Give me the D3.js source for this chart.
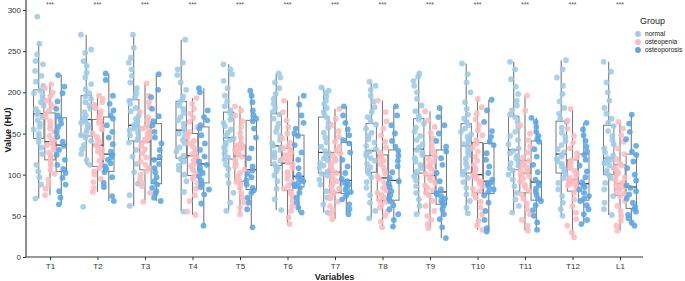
<!DOCTYPE html>
<html>
<head>
<meta charset="utf-8">
<script src="https://cdn.jsdelivr.net/npm/d3@7"></script>
<style>
  body { margin: 0; background: #fff; }
  text { font-family: "Liberation Sans", Arial, sans-serif; }
</style>
</head>
<body>
<div id="chart"></div>
<script>
// Categories and groups
const categories = ["T1", "T2", "T3", "T4", "T5", "T6", "T7", "T8", "T9", "T10", "T11", "T12", "L1"];
const groups = ["normal", "osteopenia", "osteoporosis"];
const yTicks = [0, 50, 100, 150, 200, 250, 300];
const sigLabels = ["***", "***", "***", "***", "***", "***", "***", "***", "***", "***", "***", "***", "***"];

// Box stats per category: [lower whisker, q1, median, q3, upper whisker]
const normalBox = [
  [71, 144, 174, 203, 260], [112, 147, 167, 196, 270], [62, 141, 160, 191, 270], [55, 120, 154, 189, 264],
  [56, 119, 145, 176, 234], [57, 111, 135, 174, 223], [54, 102, 127, 170, 206], [47, 103, 129, 162, 213],
  [52, 102, 131, 168, 223], [53, 102, 135, 162, 235], [54, 106, 130, 171, 237], [50, 102, 125, 165, 239],
  [51, 100, 120, 160, 237]
];
const osteopeniaBox = [
  [75, 118, 140, 175, 210], [79, 110, 136, 167, 196], [67, 106, 140, 158, 211], [51, 99, 123, 150, 193],
  [52, 92, 123, 136, 183], [40, 81, 114, 132, 190], [46, 78, 103, 127, 180], [36, 69, 96, 124, 190],
  [35, 77, 99, 123, 177], [33, 78, 100, 139, 192], [32, 78, 102, 117, 196], [24, 80, 94, 118, 180],
  [32, 75, 89, 112, 164]
];
const osteoporosisBox = [
  [64, 104, 136, 169, 221], [68, 104, 125, 170, 223], [68, 89, 119, 162, 222], [38, 90, 113, 158, 205],
  [36, 82, 106, 166, 202], [54, 85, 98, 148, 196], [52, 77, 93, 139, 183], [37, 69, 93, 130, 183],
  [23, 64, 79, 130, 181], [31, 77, 92, 138, 191], [33, 69, 91, 141, 169], [40, 69, 89, 125, 163],
  [38, 59, 85, 125, 173]
];

const normalPts = [
  [71, 88, 97, 104, 112, 125, 133, 140, 146, 150, 155, 158, 162, 166, 170, 173, 176, 180, 184, 188, 192, 196, 199, 202, 208, 213, 220, 226, 234, 238, 246, 259, 292],
  [61, 112, 118, 125, 131, 136, 141, 145, 148, 151, 155, 158, 161, 163, 165, 166, 169, 172, 176, 180, 184, 188, 192, 195, 199, 204, 210, 218, 224, 232, 238, 248, 252, 270],
  [62, 75, 89, 103, 113, 122, 130, 139, 142, 145, 148, 151, 154, 156, 158, 160, 162, 165, 168, 172, 177, 181, 186, 190, 194, 199, 205, 212, 220, 228, 236, 242, 254, 270],
  [55, 79, 92, 100, 106, 111, 116, 119, 123, 128, 133, 138, 142, 146, 150, 153, 157, 162, 166, 170, 175, 180, 184, 188, 191, 195, 203, 212, 221, 228, 236, 264],
  [56, 66, 78, 90, 99, 107, 112, 118, 121, 125, 129, 133, 136, 139, 142, 144, 147, 151, 155, 159, 163, 167, 171, 175, 178, 183, 189, 196, 205, 214, 222, 228, 234],
  [57, 70, 83, 92, 99, 104, 108, 110, 113, 117, 121, 124, 127, 130, 133, 135, 138, 142, 147, 152, 157, 162, 168, 173, 176, 181, 186, 192, 198, 205, 212, 218, 223],
  [54, 64, 72, 80, 88, 94, 99, 101, 104, 108, 111, 114, 117, 120, 123, 126, 129, 134, 139, 145, 151, 157, 163, 169, 172, 176, 181, 186, 190, 195, 199, 202, 206],
  [47, 56, 66, 75, 84, 91, 97, 102, 105, 109, 113, 117, 120, 123, 126, 128, 131, 135, 139, 143, 147, 151, 156, 161, 165, 170, 176, 182, 189, 196, 203, 208, 213],
  [52, 62, 70, 78, 86, 93, 98, 101, 104, 108, 112, 116, 120, 124, 127, 130, 133, 137, 142, 147, 152, 157, 162, 167, 171, 177, 184, 192, 200, 208, 214, 219, 223],
  [53, 60, 68, 76, 84, 91, 96, 100, 104, 109, 114, 119, 124, 128, 131, 134, 137, 140, 143, 146, 149, 152, 156, 160, 164, 168, 173, 180, 188, 200, 212, 222, 235],
  [54, 62, 70, 78, 86, 94, 100, 105, 108, 111, 114, 117, 120, 123, 126, 129, 132, 137, 142, 147, 152, 158, 164, 170, 173, 178, 184, 190, 198, 207, 216, 228, 237],
  [50, 58, 66, 74, 82, 90, 96, 101, 104, 107, 110, 113, 116, 119, 122, 124, 127, 131, 136, 141, 146, 151, 157, 164, 168, 174, 181, 189, 198, 208, 218, 228, 239],
  [51, 58, 66, 74, 82, 90, 96, 99, 102, 105, 108, 111, 114, 116, 118, 120, 123, 127, 132, 137, 142, 147, 153, 159, 163, 168, 174, 181, 190, 200, 212, 225, 237]
];
const osteopeniaPts = [
  [75, 83, 88, 94, 101, 106, 112, 116, 120, 123, 127, 130, 133, 136, 138, 140, 143, 147, 152, 156, 160, 165, 170, 174, 178, 182, 186, 190, 195, 200, 205, 210],
  [79, 84, 91, 95, 100, 104, 108, 112, 117, 121, 125, 128, 131, 134, 136, 139, 142, 146, 150, 155, 159, 163, 166, 169, 173, 177, 181, 185, 188, 192, 196],
  [67, 78, 86, 90, 95, 100, 104, 108, 112, 116, 121, 126, 131, 135, 139, 141, 143, 146, 149, 151, 153, 156, 158, 162, 166, 170, 176, 182, 188, 196, 211],
  [51, 55, 68, 75, 83, 90, 95, 98, 101, 105, 108, 111, 114, 117, 120, 122, 125, 128, 131, 134, 138, 141, 145, 149, 152, 158, 164, 169, 174, 180, 186, 193],
  [52, 60, 66, 72, 78, 84, 88, 91, 94, 98, 102, 106, 110, 114, 118, 122, 124, 126, 128, 130, 132, 134, 135, 136, 139, 145, 151, 158, 165, 172, 178, 183],
  [40, 48, 56, 62, 68, 73, 77, 80, 83, 87, 91, 95, 99, 103, 108, 113, 115, 117, 119, 121, 124, 127, 130, 132, 135, 139, 144, 150, 158, 166, 176, 190],
  [46, 52, 57, 62, 67, 71, 75, 78, 80, 83, 86, 89, 92, 95, 98, 102, 105, 108, 111, 114, 117, 120, 123, 126, 129, 134, 140, 146, 153, 160, 168, 180],
  [36, 43, 50, 55, 60, 64, 67, 69, 72, 75, 78, 81, 84, 87, 91, 95, 98, 101, 105, 109, 113, 117, 120, 123, 127, 133, 140, 148, 156, 165, 176, 190],
  [35, 40, 45, 50, 56, 62, 68, 75, 78, 81, 84, 87, 90, 93, 96, 99, 101, 104, 107, 110, 113, 116, 119, 122, 126, 131, 137, 144, 151, 158, 166, 177],
  [33, 38, 44, 52, 60, 67, 72, 76, 80, 83, 86, 89, 92, 95, 97, 99, 102, 107, 112, 117, 122, 128, 133, 138, 142, 148, 154, 160, 167, 174, 182, 192],
  [32, 38, 45, 52, 58, 65, 71, 76, 80, 84, 88, 92, 95, 98, 100, 101, 103, 105, 107, 109, 111, 113, 115, 117, 121, 127, 134, 142, 150, 160, 178, 196],
  [24, 30, 38, 46, 54, 62, 70, 78, 82, 85, 87, 89, 90, 92, 93, 94, 96, 99, 102, 105, 108, 111, 114, 117, 121, 126, 132, 139, 147, 156, 166, 180],
  [32, 38, 44, 50, 56, 62, 68, 74, 77, 79, 81, 83, 85, 86, 87, 88, 90, 93, 96, 99, 102, 105, 108, 111, 114, 119, 125, 132, 140, 148, 156, 164]
];
const osteoporosisPts = [
  [64, 72, 80, 88, 96, 102, 107, 112, 118, 124, 130, 135, 140, 146, 152, 158, 162, 167, 172, 180, 189, 199, 207, 221],
  [68, 74, 85, 90, 97, 103, 107, 110, 114, 118, 121, 124, 128, 137, 145, 152, 160, 168, 172, 178, 186, 196, 215, 223],
  [68, 72, 77, 80, 84, 88, 92, 97, 103, 108, 113, 118, 122, 130, 138, 145, 152, 160, 165, 171, 180, 194, 203, 222],
  [38, 65, 76, 82, 85, 89, 93, 98, 102, 105, 109, 112, 116, 122, 130, 138, 148, 156, 160, 166, 170, 178, 200, 205],
  [36, 58, 66, 72, 78, 81, 84, 88, 93, 97, 101, 105, 110, 120, 132, 145, 156, 165, 168, 172, 178, 188, 196, 202],
  [54, 60, 66, 72, 78, 84, 86, 88, 90, 92, 95, 97, 100, 108, 118, 127, 136, 147, 150, 156, 163, 172, 185, 196],
  [52, 58, 64, 70, 74, 77, 79, 82, 85, 88, 90, 92, 95, 102, 110, 118, 127, 138, 142, 148, 155, 163, 172, 183],
  [37, 45, 52, 58, 63, 68, 71, 75, 80, 85, 89, 92, 96, 103, 110, 117, 123, 129, 134, 141, 150, 160, 172, 183],
  [23, 36, 46, 52, 58, 63, 66, 68, 71, 74, 76, 78, 82, 92, 102, 112, 120, 128, 134, 141, 150, 160, 170, 181],
  [31, 35, 45, 56, 66, 75, 79, 82, 85, 88, 90, 91, 94, 102, 110, 118, 126, 136, 140, 146, 153, 164, 178, 191],
  [33, 42, 50, 57, 63, 68, 71, 75, 79, 83, 87, 90, 94, 103, 112, 122, 131, 140, 143, 147, 152, 158, 164, 169],
  [40, 45, 52, 58, 63, 68, 71, 74, 78, 82, 85, 88, 91, 97, 104, 111, 118, 124, 128, 134, 141, 148, 155, 163],
  [38, 42, 47, 51, 55, 58, 61, 66, 71, 76, 80, 84, 87, 93, 100, 108, 116, 124, 128, 135, 143, 152, 162, 173]
];

const boxes = { normal: normalBox, osteopenia: osteopeniaBox, osteoporosis: osteoporosisBox };
const points = { normal: normalPts, osteopenia: osteopeniaPts, osteoporosis: osteoporosisPts };

// Dimensions
const width = 685, height = 281;
const axisLeft = 26, axisRight = 643, axisBottom = 257;

const svg = d3.select("#chart")
  .append("svg")
  .attr("width", width)
  .attr("height", height);

// Scales
const x = d3.scalePoint()
  .domain(categories)
  .range([50, 620]);

const y = d3.scaleLinear()
  .domain([0, 300])
  .range([axisBottom, 10]);

const offset = d3.scalePoint()
  .domain(groups)
  .range([-11.3, 11.3]);

const color = d3.scaleOrdinal()
  .domain(groups)
  .range(["#9ccbe8", "#ffbabd", "#58a6e6"]);

const boxW = 10.4;

// Boxes and whiskers
groups.forEach(g => {
  const gBox = svg.append("g").attr("class", "box-" + g);
  boxes[g].forEach((s, i) => {
    const cx = x(categories[i]) + offset(g);
    gBox.append("line")
      .attr("x1", cx).attr("x2", cx)
      .attr("y1", y(s[0])).attr("y2", y(s[1]))
      .attr("stroke", "#7a7a7a").attr("stroke-width", 1.1);
    gBox.append("line")
      .attr("x1", cx).attr("x2", cx)
      .attr("y1", y(s[3])).attr("y2", y(s[4]))
      .attr("stroke", "#7a7a7a").attr("stroke-width", 1.1);
    gBox.append("rect")
      .attr("x", cx - boxW / 2)
      .attr("y", y(s[3]))
      .attr("width", boxW)
      .attr("height", y(s[1]) - y(s[3]))
      .attr("fill", "none")
      .attr("stroke", "#7a7a7a")
      .attr("stroke-width", 1);
    gBox.append("line")
      .attr("x1", cx - boxW / 2).attr("x2", cx + boxW / 2)
      .attr("y1", y(s[2])).attr("y2", y(s[2]))
      .attr("stroke", "#444").attr("stroke-width", 1.3);
  });
});

// Jittered points (jitter is only a layout offset, a fixed hash of the index)
const jitter = (i, k) => {
  const h = Math.sin(i * 12.9898 + k * 78.233) * 43758.5453;
  return (h - Math.floor(h) - 0.5) * 10.5;
};

groups.forEach((g, gi) => {
  const gPts = svg.append("g").attr("class", "pts-" + g);
  points[g].forEach((vals, i) => {
    const cx = x(categories[i]) + offset(g);
    gPts.selectAll(null)
      .data(vals)
      .enter()
      .append("circle")
      .attr("cx", (d, j) => cx + jitter(j, i * 3 + gi + 1))
      .attr("cy", d => y(d))
      .attr("r", 2.9)
      .attr("fill", color(g))
      .attr("opacity", 0.88);
  });
});

// Y-axis
const yAxis = svg.append("g")
  .attr("transform", `translate(${axisLeft},0)`)
  .call(d3.axisLeft(y).tickValues(yTicks).tickSize(3).tickPadding(2));
yAxis.select(".domain").remove();
yAxis.append("line")
  .attr("x1", 0).attr("x2", 0)
  .attr("y1", 0).attr("y2", axisBottom)
  .attr("stroke", "#333").attr("stroke-width", 1.1);
yAxis.selectAll(".tick line").attr("stroke", "#333");
yAxis.selectAll(".tick text")
  .attr("fill", "#333")
  .style("font-size", "8px")
  .style("font-family", "Liberation Sans, Arial, sans-serif");

// X-axis
const xAxis = svg.append("g")
  .attr("transform", `translate(0,${axisBottom})`)
  .call(d3.axisBottom(x).tickSize(3).tickPadding(3));
xAxis.select(".domain").remove();
xAxis.append("line")
  .attr("x1", axisLeft).attr("x2", axisRight)
  .attr("y1", 0).attr("y2", 0)
  .attr("stroke", "#333").attr("stroke-width", 1.1);
xAxis.selectAll(".tick line").attr("stroke", "#333");
xAxis.selectAll(".tick text")
  .attr("fill", "#333")
  .style("font-size", "8px")
  .style("font-family", "Liberation Sans, Arial, sans-serif");

// Axis titles
svg.append("text")
  .attr("x", (axisLeft + axisRight) / 2)
  .attr("y", 280)
  .attr("text-anchor", "middle")
  .style("font-size", "9px")
  .style("font-weight", "bold")
  .attr("fill", "#222")
  .text("Variables");

svg.append("text")
  .attr("transform", "rotate(-90)")
  .attr("x", -130)
  .attr("y", 11)
  .attr("text-anchor", "middle")
  .style("font-size", "9px")
  .style("font-weight", "bold")
  .attr("fill", "#222")
  .text("Value (HU)");

// Significance labels
svg.selectAll(".sig")
  .data(categories)
  .enter()
  .append("text")
  .attr("class", "sig")
  .attr("x", d => x(d))
  .attr("y", 7)
  .attr("text-anchor", "middle")
  .style("font-size", "7px")
  .attr("fill", "#555")
  .text((d, i) => sigLabels[i]);

// Legend
const legend = svg.append("g")
  .attr("transform", "translate(640, 0)");

legend.append("text")
  .attr("x", 0)
  .attr("y", 24)
  .style("font-size", "9px")
  .attr("fill", "#222")
  .text("Group");

const legendItems = legend.selectAll(".legend-item")
  .data(groups)
  .enter()
  .append("g")
  .attr("class", "legend-item")
  .attr("transform", (d, i) => `translate(0, ${34 + i * 8})`);

legendItems.append("circle")
  .attr("cx", -2)
  .attr("cy", 0)
  .attr("r", 2.9)
  .attr("fill", d => color(d));

legendItems.append("text")
  .attr("x", 5)
  .attr("y", 2.4)
  .style("font-size", "6.6px")
  .attr("fill", "#222")
  .text(d => d);
</script>
</body>
</html>
